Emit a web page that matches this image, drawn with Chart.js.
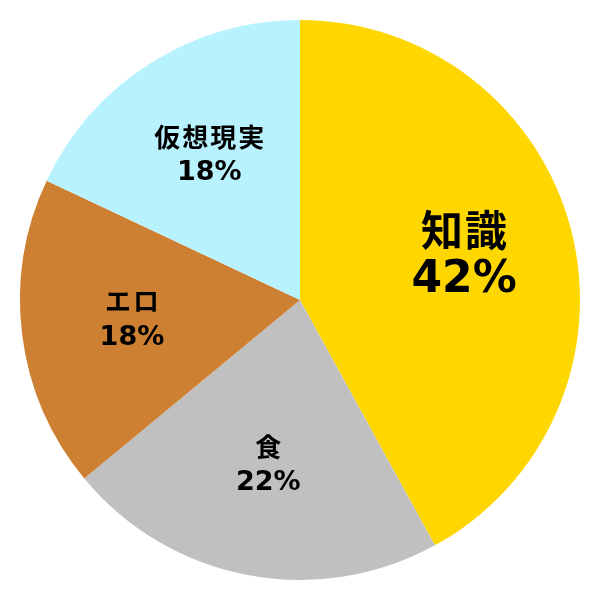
<!DOCTYPE html>
<html>
<head>
<meta charset="utf-8">
<script src="https://cdn.jsdelivr.net/npm/chart.js@4/dist/chart.umd.min.js"></script>
<style>
  html, body { margin: 0; padding: 0; background: #fff; }
  #wrap { width: 600px; height: 600px; }
</style>
</head>
<body>
<div id="wrap"><canvas id="pieChart"></canvas></div>
<script>
// ---- data ----
const categories = ['知識', '食', 'エロ', '仮想現実'];
const shares = [42, 22, 18, 18];
const sliceColors = ['#FFD700', '#C0C0C0', '#CD7F32', '#B9F2FF'];
const bigSlice = [true, false, false, false];

// draws "name / pct%" inside each slice, at 60% of the radius
const sliceLabels = {
  id: 'sliceLabels',
  afterDatasetsDraw(chart) {
    const ctx = chart.ctx;
    const meta = chart.getDatasetMeta(0);
    meta.data.forEach((arc, i) => {
      const mid = (arc.startAngle + arc.endAngle) / 2;
      const r = arc.outerRadius * 0.605;
      const x = arc.x + Math.cos(mid) * r;
      const y = arc.y + Math.sin(mid) * r;
      const big = bigSlice[i];
      const nameSize = big ? 42 : 26;
      const pctSize = big ? 44 : 27;
      const gap = big ? 23 : 16.5;
      ctx.save();
      ctx.fillStyle = '#000';
      ctx.textAlign = 'center';
      ctx.textBaseline = 'middle';
      ctx.font = 'bold ' + nameSize + 'px "DejaVu Sans", "Noto Sans CJK JP"';
      ctx.letterSpacing = '2px';
      ctx.fillText(categories[i], x + 1, y - gap);
      ctx.letterSpacing = '0px';
      ctx.font = 'bold ' + pctSize + 'px "DejaVu Sans", "Noto Sans CJK JP"';
      ctx.fillText(shares[i] + '%', x, y + gap);
      ctx.restore();
    });
  }
};

const ctxPie = document.getElementById('pieChart').getContext('2d');
new Chart(ctxPie, {
  type: 'pie',
  data: {
    labels: categories,
    datasets: [{
      data: shares,
      backgroundColor: sliceColors,
      borderWidth: 0
    }]
  },
  options: {
    responsive: true,
    maintainAspectRatio: false,
    animation: false,
    layout: { padding: 20 },
    plugins: {
      legend: { display: false },
      tooltip: { enabled: false }
    }
  },
  plugins: [sliceLabels]
});
</script>
</body>
</html>
